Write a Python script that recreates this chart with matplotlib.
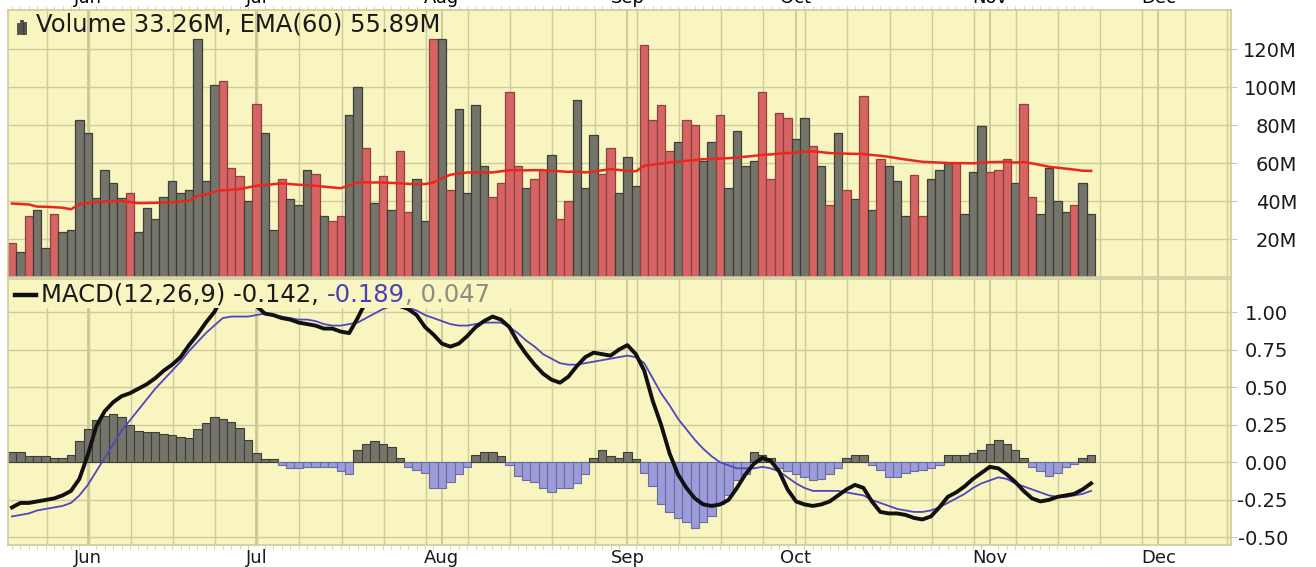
import numpy as np
import matplotlib
matplotlib.use('Agg')
import matplotlib.pyplot as plt
from matplotlib.patches import Rectangle
from matplotlib.lines import Line2D

# ---- data (one value per trading day) ----
volume = [18.1, 13.4, 31.9, 35.4, 15.5, 33.1, 23.8, 24.8, 82.7, 75.9,
          41.4, 56.3, 49.3, 41.4, 44.5, 23.8, 36.6, 30.8, 42.4, 50.4,
          44.5, 45.8, 125.5, 50.4, 101.4, 103.5, 57.4, 53.0, 39.8, 91.2,
          75.9, 24.8, 51.9, 41.0, 37.9, 56.3, 54.2, 31.9, 29.6, 31.9,
          85.4, 100.0, 68.0, 38.9, 53.0, 35.4, 66.5, 34.3, 51.9, 29.6,
          125.5, 125.5, 45.8, 88.6, 44.5, 90.8, 58.6, 42.4, 49.3, 97.7,
          58.6, 46.8, 51.6, 56.3, 64.3, 30.8, 39.8, 93.3, 46.8, 74.8,
          54.2, 68.0, 44.5, 63.4, 48.1, 122.0, 82.9, 90.8, 66.5, 71.0,
          82.7, 80.3, 61.3, 71.0, 85.4, 46.8, 77.1, 58.6, 60.9, 97.7,
          51.6, 86.3, 83.8, 72.7, 83.8, 68.8, 58.6, 37.9, 75.9, 46.0,
          41.0, 95.6, 35.4, 62.1, 58.6, 50.4, 31.9, 53.9, 31.9, 51.9,
          56.3, 59.9, 59.9, 33.1, 55.1, 79.4, 55.1, 56.3, 62.1, 49.3,
          91.2, 42.4, 33.1, 57.4, 39.8, 34.3, 37.9, 49.3, 33.1]

# r = down day (red), g = up day (gray)
updown = ('rgrggrgggg' 'ggggrggggg' 'gggggrrrgr' 'ggrgggrgrr'
          'ggrgrgrrgg' 'rgrggggrrr' 'rgrrgrrggg' 'rrgggrrrrg'
          'rrggrggggr' 'rrrggrgrgr' 'grgrgggrrg' 'ggrgggrrrg'
          'rrggggrgg')

ema60 = [38.7, 38.5, 38.2, 37.1, 37.0, 36.8, 36.5, 35.7,
         38.4, 39.0, 39.6, 39.8, 40.0, 40.1, 39.5, 38.9,
         39.0, 39.1, 39.2, 39.3, 39.7, 40.1, 42.8, 43.5,
         44.9, 45.7, 46.0, 46.3, 47.2, 48.1, 48.5, 48.9,
         49.3, 49.0, 48.6, 48.4, 48.1, 47.6, 47.2, 46.8,
         48.3, 49.8, 49.9, 49.8, 49.8, 49.6, 49.4, 49.1,
         48.9, 49.0, 49.8, 52.0, 53.9, 54.5, 55.1, 55.1,
         55.1, 55.1, 55.7, 56.3, 56.3, 56.2, 56.3, 56.3,
         56.0, 55.7, 55.4, 55.6, 55.1, 55.5, 56.2, 56.9,
         56.4, 56.0, 55.7, 58.6, 59.2, 59.8, 60.4, 60.8,
         61.2, 61.6, 62.1, 62.2, 62.4, 62.6, 63.0, 63.4,
         63.8, 64.4, 64.6, 65.0, 65.3, 65.6, 65.9, 66.2,
         65.8, 65.3, 65.2, 65.0, 64.9, 64.8, 64.3, 63.9,
         63.3, 62.6, 61.9, 61.3, 60.7, 60.5, 60.3, 60.1,
         60.0, 60.0, 59.9, 60.3, 60.5, 60.6, 60.7, 60.3,
         60.6, 59.9, 59.0, 58.1, 57.6, 57.1, 56.6, 56.0, 55.9]

macd = [-0.30, -0.27, -0.27, -0.26, -0.25, -0.24, -0.22, -0.19, -0.11, 0.05,
        0.24, 0.34, 0.40, 0.44, 0.46, 0.49, 0.52, 0.56, 0.61, 0.65,
        0.70, 0.78, 0.85, 0.93, 1.00, 1.10, 1.18, 1.18, 1.10, 1.04,
        0.99, 0.98, 0.96, 0.95, 0.93, 0.92, 0.91, 0.89, 0.89, 0.87,
        0.86, 0.96, 1.07, 1.15, 1.17, 1.12, 1.04, 1.02, 0.98, 0.90,
        0.85, 0.79, 0.77, 0.79, 0.84, 0.90, 0.94, 0.97, 0.95, 0.90,
        0.80, 0.72, 0.65, 0.59, 0.55, 0.53, 0.57, 0.64, 0.70, 0.73,
        0.72, 0.71, 0.75, 0.78, 0.72, 0.61, 0.41, 0.25, 0.06, -0.08,
        -0.17, -0.24, -0.28, -0.29, -0.28, -0.25, -0.17, -0.08, -0.01, 0.03,
        0.01, -0.06, -0.18, -0.26, -0.28, -0.29, -0.28, -0.26, -0.22, -0.18,
        -0.15, -0.17, -0.26, -0.33, -0.34, -0.34, -0.35, -0.37, -0.38, -0.36,
        -0.30, -0.23, -0.20, -0.16, -0.11, -0.07, -0.03, -0.04, -0.08, -0.13,
        -0.19, -0.24, -0.26, -0.25, -0.23, -0.22, -0.21, -0.18, -0.14]

signal = [-0.36, -0.35, -0.34, -0.32, -0.31, -0.30, -0.29, -0.27, -0.22, -0.15,
          -0.06, 0.03, 0.12, 0.21, 0.28, 0.35, 0.42, 0.49, 0.55, 0.61,
          0.67, 0.74, 0.80, 0.86, 0.91, 0.96, 0.97, 0.97, 0.97, 0.98,
          0.99, 0.98, 0.97, 0.96, 0.95, 0.95, 0.94, 0.92, 0.91, 0.91,
          0.92, 0.93, 0.96, 0.99, 1.02, 1.04, 1.05, 1.03, 1.01, 0.98,
          0.96, 0.94, 0.92, 0.91, 0.91, 0.92, 0.93, 0.93, 0.93, 0.90,
          0.86, 0.81, 0.77, 0.72, 0.69, 0.66, 0.65, 0.65, 0.66, 0.67,
          0.68, 0.69, 0.70, 0.71, 0.70, 0.66, 0.56, 0.46, 0.38, 0.29,
          0.22, 0.15, 0.09, 0.04, 0.00, -0.02, -0.04, -0.04, -0.04, -0.03,
          -0.04, -0.06, -0.10, -0.14, -0.17, -0.19, -0.19, -0.19, -0.19, -0.20,
          -0.21, -0.22, -0.25, -0.27, -0.29, -0.31, -0.32, -0.33, -0.33, -0.32,
          -0.30, -0.27, -0.24, -0.21, -0.17, -0.14, -0.12, -0.10, -0.11, -0.14,
          -0.16, -0.18, -0.20, -0.22, -0.23, -0.23, -0.22, -0.21, -0.19]

hist = [0.07, 0.07, 0.04, 0.04, 0.04, 0.03, 0.03, 0.05, 0.14, 0.22,
        0.28, 0.31, 0.32, 0.30, 0.25, 0.21, 0.20, 0.20, 0.19, 0.18,
        0.17, 0.16, 0.22, 0.26, 0.30, 0.29, 0.27, 0.23, 0.15, 0.06,
        0.02, 0.02, -0.02, -0.04, -0.04, -0.03, -0.03, -0.03, -0.03, -0.06,
        -0.08, 0.08, 0.12, 0.14, 0.12, 0.10, 0.03, -0.03, -0.05, -0.07,
        -0.17, -0.17, -0.13, -0.08, -0.03, 0.05, 0.07, 0.07, 0.04, -0.02,
        -0.09, -0.12, -0.13, -0.17, -0.20, -0.17, -0.17, -0.14, -0.08, 0.03,
        0.08, 0.04, 0.03, 0.07, 0.02, -0.07, -0.16, -0.28, -0.33, -0.37,
        -0.40, -0.44, -0.40, -0.36, -0.28, -0.22, -0.12, -0.08, 0.07, 0.05,
        0.03, -0.04, -0.06, -0.08, -0.10, -0.12, -0.11, -0.08, -0.04, 0.03,
        0.05, 0.05, -0.02, -0.05, -0.10, -0.10, -0.07, -0.06, -0.05, -0.04,
        -0.02, 0.05, 0.05, 0.05, 0.06, 0.08, 0.12, 0.15, 0.12, 0.08,
        0.03, -0.03, -0.06, -0.09, -0.07, -0.03, -0.01, 0.03, 0.05]

months = ['Jun', 'Jul', 'Aug', 'Sep', 'Oct', 'Nov', 'Dec']
month_start = [9, 29, 51, 73, 93, 116, 136]   # trading-day index of 1st of month

vol_ticks = [20, 40, 60, 80, 100, 120]
macd_ticks = [-0.50, -0.25, 0.00, 0.25, 0.50, 0.75, 1.00]

# ---- styling ----
BG = '#f8f5c0'
GRID = '#cfcb9c'
RED = '#d66464'
RED_EDGE = '#8f4040'
GRAY = '#74746a'
GRAY_EDGE = '#3e3e38'
BLUE = '#9c9cd8'
BLUE_EDGE = '#6a6aa8'

days = np.arange(len(volume))
weeks = np.arange(4, 145, 5) + 0.1
xmin, xmax = -0.47, 144.6

W, H = 1316, 567
fig = plt.figure(figsize=(W / 100, H / 100), dpi=100)
fig.patch.set_facecolor('white')

ax1 = fig.add_axes([8 / W, 1 - 277 / H, (1231 - 8) / W, (277 - 10) / H])
ax2 = fig.add_axes([8 / W, 1 - 545 / H, (1231 - 8) / W, (545 - 279) / H])


def style(ax):
    ax.set_facecolor(BG)
    ax.set_xlim(xmin, xmax)
    for s in ax.spines.values():
        s.set_color(GRID)
        s.set_linewidth(1.2)
    for w in weeks:
        ax.axvline(w, color=GRID, lw=1.0, zorder=0)
    for m in month_start:
        ax.axvline(m, color='#c6c292', lw=1.2, zorder=0)
    ax.yaxis.tick_right()
    ax.tick_params(axis='y', which='major', length=4, color=GRID,
                   labelsize=14, labelcolor='#1a1a1a')
    ax.set_xticks(days, minor=True)


# ---- volume panel ----
style(ax1)
ax1.set_ylim(0, 140.7)
for t in vol_ticks:
    ax1.axhline(t, color=GRID, lw=1.0, zorder=0)
cols = [RED if c == 'r' else GRAY for c in updown]
edges = [RED_EDGE if c == 'r' else GRAY_EDGE for c in updown]
ax1.bar(days, volume, width=1.0, color=cols, edgecolor=edges, linewidth=0.9, zorder=2)
ax1.plot(days, ema60, color='#e8281e', lw=1.8, zorder=3)
ax1.set_yticks(vol_ticks)
ax1.set_yticklabels(['%dM' % t for t in vol_ticks])
ax1.tick_params(axis='y', pad=66 * 0.72 - 4)
for lab in ax1.get_yticklabels():
    lab.set_horizontalalignment('right')
ax1.xaxis.set_ticks_position('top')
ax1.set_xticks(month_start)
ax1.set_xticklabels(months)
ax1.tick_params(axis='x', which='major', length=0, pad=2, labelsize=13)
ax1.tick_params(axis='x', which='minor', length=3, color=GRID)

# little bar icon + volume caption (no background: tall bars stay visible)
for x0, hh in [(0.0072, 0.040), (0.0098, 0.052), (0.0124, 0.046)]:
    ax1.add_patch(Rectangle((x0, 0.91), 0.0022, hh, transform=ax1.transAxes,
                            facecolor='#555550', edgecolor='#333330', lw=0.5, zorder=6))
ax1.text(0.0225, 0.944, 'Volume 33.26M, EMA(60) 55.89M', transform=ax1.transAxes,
         fontsize=17.5, color='#1a1a1a', va='center', ha='left', zorder=6)

# ---- MACD panel ----
style(ax2)
ax2.set_ylim(-0.55, 1.22)
for t in macd_ticks:
    ax2.axhline(t, color=GRID, lw=1.0, zorder=0)
hcols = [GRAY if v >= 0 else BLUE for v in hist]
hedges = [GRAY_EDGE if v >= 0 else BLUE_EDGE for v in hist]
ax2.bar(days, hist, width=1.0, color=hcols, edgecolor=hedges, linewidth=0.8, zorder=2)
ax2.plot(days, signal, color='#5046c0', lw=1.3, zorder=3)
ax2.plot(days, macd, color='#111111', lw=2.8, zorder=4)
ax2.set_yticks(macd_ticks)
ax2.set_yticklabels(['%.2f' % t for t in macd_ticks])
ax2.tick_params(axis='y', pad=57 * 0.72 - 4)
for lab in ax2.get_yticklabels():
    lab.set_horizontalalignment('right')
ax2.set_xticks(month_start)
ax2.set_xticklabels(months)
ax2.tick_params(axis='x', which='major', length=0, pad=3, labelsize=13, labelcolor='#1a1a1a')
ax2.tick_params(axis='x', which='minor', length=3, color=GRID)

# caption with coloured parts; background box hides lines beneath it
ax2.add_patch(Rectangle((0.002, 0.89), 0.41, 0.105, transform=ax2.transAxes,
                        facecolor=BG, edgecolor='none', zorder=5))
ax2.add_line(Line2D([0.006, 0.023], [0.94, 0.94], transform=ax2.transAxes,
                    color='#111111', lw=3.2, zorder=6))
parts = [('MACD(12,26,9) -0.142, ', '#1a1a1a'), ('-0.189', '#4a40b8'),
         (', 0.047', '#8c8c84')]
fig.canvas.draw()
r = fig.canvas.get_renderer()
xpos = 0.027
for txt, c in parts:
    t = ax2.text(xpos, 0.94, txt, transform=ax2.transAxes, fontsize=17.5, color=c,
                 va='center', ha='left', zorder=6)
    bb = t.get_window_extent(renderer=r)
    xpos += bb.width / ax2.get_window_extent(renderer=r).width

fig.savefig('out.png', dpi=100, facecolor='white')
